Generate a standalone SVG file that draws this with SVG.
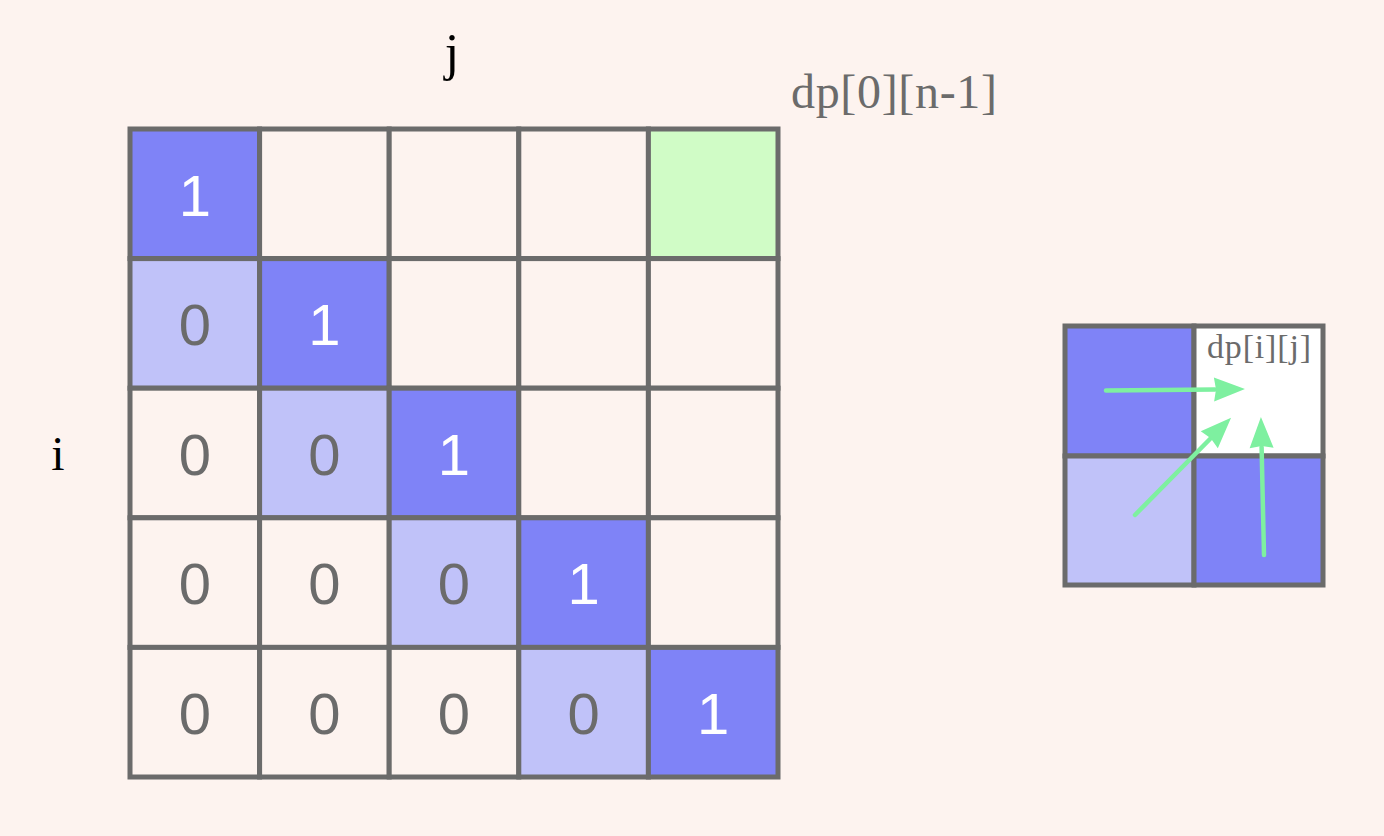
<svg xmlns="http://www.w3.org/2000/svg" width="1384" height="836" viewBox="0 0 1384 836">
<style>
.bg{fill:#fdf3ef}
.cell{stroke:#6b6b6b;stroke-width:5}
.e{fill:#fdf3ef}
.d{fill:#7f83f7}
.l{fill:#c0c2f9}
.g{fill:#d0fcc6}
.w{fill:#ffffff}
.n{font-family:"Liberation Sans",Arial,sans-serif;font-size:58px;text-anchor:middle}
.n1{fill:#ffffff}
.n0{fill:#6b6b6b}
.lab{font-family:"Liberation Serif","Times New Roman",serif;fill:#6b6b6b}
.ax{font-family:"Liberation Serif","Times New Roman",serif;fill:#000000;text-anchor:middle}
.arr{stroke:#7ef0a0;stroke-width:4.5;stroke-linecap:round;fill:none;marker-end:url(#ah)}
</style>
<defs>
<marker id="ah" markerUnits="userSpaceOnUse" markerWidth="32" markerHeight="24" viewBox="0 0 32 24" refX="1" refY="12" orient="auto" overflow="visible">
<path d="M0,0 L31,12 L0,24 L2,12 Z" fill="#7ef0a0"/>
</marker>
</defs>
<rect class="bg" x="0" y="0" width="1384" height="836"/>
<g id="axis-j"><text class="ax" x="452" y="70" font-size="52">j</text></g>
<g id="axis-i"><text class="ax" x="58" y="470" font-size="48">i</text></g>
<g id="label-dp0n1"><text class="lab" x="791" y="108" font-size="48" textLength="206" lengthAdjust="spacing">dp[0][n-1]</text></g>
<g id="grid">
<g id="c00"><rect class="cell d" x="130" y="129" width="129.6" height="129.6"/><text class="n n1" x="194.8" y="215.5">1</text></g>
<g id="c01"><rect class="cell e" x="259.6" y="129" width="129.6" height="129.6"/></g>
<g id="c02"><rect class="cell e" x="389.2" y="129" width="129.6" height="129.6"/></g>
<g id="c03"><rect class="cell e" x="518.8" y="129" width="129.6" height="129.6"/></g>
<g id="c04"><rect class="cell g" x="648.4" y="129" width="129.6" height="129.6"/></g>
<g id="c10"><rect class="cell l" x="130" y="258.6" width="129.6" height="129.6"/><text class="n n0" x="194.8" y="345.1">0</text></g>
<g id="c11"><rect class="cell d" x="259.6" y="258.6" width="129.6" height="129.6"/><text class="n n1" x="324.4" y="345.1">1</text></g>
<g id="c12"><rect class="cell e" x="389.2" y="258.6" width="129.6" height="129.6"/></g>
<g id="c13"><rect class="cell e" x="518.8" y="258.6" width="129.6" height="129.6"/></g>
<g id="c14"><rect class="cell e" x="648.4" y="258.6" width="129.6" height="129.6"/></g>
<g id="c20"><rect class="cell e" x="130" y="388.2" width="129.6" height="129.6"/><text class="n n0" x="194.8" y="474.7">0</text></g>
<g id="c21"><rect class="cell l" x="259.6" y="388.2" width="129.6" height="129.6"/><text class="n n0" x="324.4" y="474.7">0</text></g>
<g id="c22"><rect class="cell d" x="389.2" y="388.2" width="129.6" height="129.6"/><text class="n n1" x="454" y="474.7">1</text></g>
<g id="c23"><rect class="cell e" x="518.8" y="388.2" width="129.6" height="129.6"/></g>
<g id="c24"><rect class="cell e" x="648.4" y="388.2" width="129.6" height="129.6"/></g>
<g id="c30"><rect class="cell e" x="130" y="517.8" width="129.6" height="129.6"/><text class="n n0" x="194.8" y="604.3">0</text></g>
<g id="c31"><rect class="cell e" x="259.6" y="517.8" width="129.6" height="129.6"/><text class="n n0" x="324.4" y="604.3">0</text></g>
<g id="c32"><rect class="cell l" x="389.2" y="517.8" width="129.6" height="129.6"/><text class="n n0" x="454" y="604.3">0</text></g>
<g id="c33"><rect class="cell d" x="518.8" y="517.8" width="129.6" height="129.6"/><text class="n n1" x="583.6" y="604.3">1</text></g>
<g id="c34"><rect class="cell e" x="648.4" y="517.8" width="129.6" height="129.6"/></g>
<g id="c40"><rect class="cell e" x="130" y="647.4" width="129.6" height="129.6"/><text class="n n0" x="194.8" y="733.9">0</text></g>
<g id="c41"><rect class="cell e" x="259.6" y="647.4" width="129.6" height="129.6"/><text class="n n0" x="324.4" y="733.9">0</text></g>
<g id="c42"><rect class="cell e" x="389.2" y="647.4" width="129.6" height="129.6"/><text class="n n0" x="454" y="733.9">0</text></g>
<g id="c43"><rect class="cell l" x="518.8" y="647.4" width="129.6" height="129.6"/><text class="n n0" x="583.6" y="733.9">0</text></g>
<g id="c44"><rect class="cell d" x="648.4" y="647.4" width="129.6" height="129.6"/><text class="n n1" x="713.2" y="733.9">1</text></g>
</g>
<g id="mini">
<g id="m00"><rect class="cell d" x="1065" y="326" width="129" height="130"/></g>
<g id="m01"><rect class="cell w" x="1194" y="326" width="129" height="130"/><text class="lab" x="1207" y="358" font-size="34" textLength="104" lengthAdjust="spacing">dp[i][j]</text></g>
<g id="m10"><rect class="cell l" x="1065" y="456" width="129" height="129"/></g>
<g id="m11"><rect class="cell d" x="1194" y="456" width="129" height="129"/></g>
</g>
<g id="connectors">
<line class="arr" x1="1106" y1="390.5" x2="1215" y2="389.4"/>
<line class="arr" x1="1135" y1="515" x2="1210" y2="439"/>
<line class="arr" x1="1264" y1="555" x2="1261.6" y2="447"/>
</g>
</svg>
